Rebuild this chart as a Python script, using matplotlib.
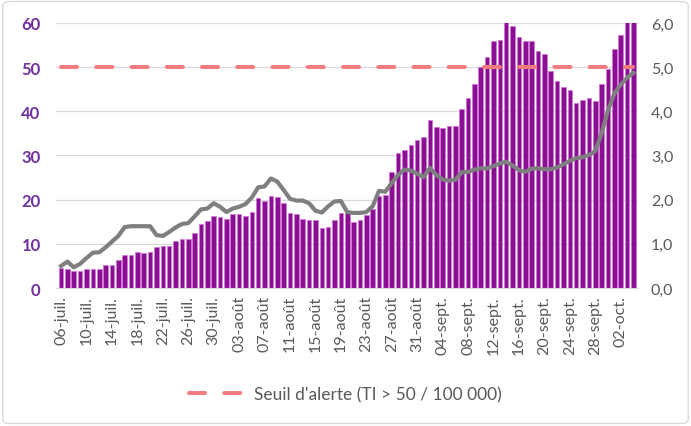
import numpy as np
import matplotlib
matplotlib.use("Agg")
import matplotlib.pyplot as plt
from matplotlib.patches import FancyBboxPatch
from matplotlib.ticker import FuncFormatter

# Données (06-juil. -> 04-oct., un point par jour)
incidence = [
    4.5, 4.3, 3.9, 3.9, 4.3, 4.3, 4.3, 5.3, 5.3, 6.4, 7.5, 7.5, 8.1, 8.0, 8.2,
    9.2, 9.6, 9.6, 10.6, 11.2, 11.2, 12.4, 14.5, 15.2, 16.2, 16.0, 15.6, 16.7, 16.7,
    16.2, 17.3, 20.3, 19.8, 20.9, 20.6, 19.2, 17.1, 16.7, 15.6, 15.3, 15.3, 13.5,
    13.9, 15.3, 17.1, 17.0, 15.0, 15.3, 16.5, 17.9, 20.9, 21.1, 26.3, 30.6, 31.3,
    32.4, 33.4, 34.2, 38.1,
    36.4, 36.3, 36.6, 36.6, 40.5, 43.0, 46.1, 50.1, 52.2, 55.8, 56.1, 60.5, 59.4,
    56.7, 55.8, 55.8, 53.7, 53.0, 49.1, 46.9, 45.4, 44.8, 41.8, 42.6, 42.9, 42.3,
    46.2, 49.6, 54.0, 57.3, 61.0, 62.0,
]
taux = [
    0.50, 0.60, 0.47, 0.55, 0.68, 0.80, 0.81, 0.92, 1.05, 1.18, 1.38, 1.40, 1.40,
    1.40, 1.40, 1.20, 1.18, 1.27, 1.37, 1.45, 1.47, 1.62, 1.78, 1.80, 1.92, 1.84,
    1.72, 1.80, 1.84,
    1.90, 2.05, 2.28, 2.30, 2.48, 2.41, 2.22, 2.02, 1.98, 1.98, 1.92, 1.75, 1.71,
    1.85, 1.96, 1.97, 1.72, 1.70, 1.70, 1.72, 1.85, 2.20, 2.18, 2.38, 2.56, 2.68,
    2.66, 2.59, 2.51, 2.72,
    2.56, 2.46, 2.43, 2.45, 2.62, 2.63, 2.68, 2.71, 2.71, 2.76, 2.82, 2.86, 2.77,
    2.67, 2.63, 2.70, 2.71, 2.69, 2.69, 2.73, 2.80, 2.88, 2.94, 2.96, 3.01, 3.10,
    3.50, 4.02, 4.40, 4.60, 4.76, 4.87,
]
seuil = 50
tick_labels = [
    "06-juil.", "10-juil.", "14-juil.", "18-juil.", "22-juil.", "26-juil.",
    "30-juil.", "03-août", "07-août", "11-août", "15-août", "19-août", "23-août",
    "27-août", "31-août", "04-sept.", "08-sept.", "12-sept.", "16-sept.",
    "20-sept.", "24-sept.", "28-sept.", "02-oct.",
]
legend_label = "Seuil d'alerte (TI > 50 / 100 000)"

plt.rcParams["font.family"] = ["Lato", "DejaVu Sans"]

x = np.arange(len(incidence))

fig = plt.figure(figsize=(6.91, 4.27), dpi=100)
fig.patches.append(FancyBboxPatch((0.004, 0.006), 0.992, 0.988,
                                  boxstyle="round,pad=0,rounding_size=0.01",
                                  transform=fig.transFigure, fill=False,
                                  edgecolor="#D9D9D9", linewidth=1.0))
ax = fig.add_axes([0.081, 0.323, 0.843, 0.621])

ax.bar(x, incidence, width=0.72, color="#8B0F93", edgecolor="#D27AD8",
       linewidth=0.6, zorder=2)
ax.plot(x, [seuil] * len(x), color="#F47C80", lw=2.9,
        linestyle=(0, (4.0, 4.75)), dash_capstyle="round", zorder=3,
        label=legend_label)

ax.set_xlim(-0.8, len(x) - 0.2)
ax.set_ylim(0, 60)
ax.set_yticks(range(0, 61, 10))
ax.grid(axis="y", color="#D9D9D9", linewidth=0.9, zorder=0)
ax.set_axisbelow(True)
for s in ["top", "right", "left"]:
    ax.spines[s].set_visible(False)
ax.spines["bottom"].set_color("#D9D9D9")
ax.set_xticks(x[::4])
ax.set_xticklabels(tick_labels, rotation=90, fontsize=11.5, color="#595959")
ax.tick_params(axis="x", length=0, pad=5)
ax.tick_params(axis="y", length=0, pad=11, labelsize=12, labelcolor="#7030A0")
for lab in ax.get_yticklabels():
    lab.set_fontweight("bold")

ax2 = ax.twinx()
ax2.plot(x, taux, color="#7F7F7F", lw=3.0, solid_joinstyle="round", zorder=4)
ax2.set_ylim(0, 6)
ax2.set_yticks(np.arange(0, 6.1, 1))
ax2.yaxis.set_major_formatter(FuncFormatter(lambda v, p: f"{v:.1f}".replace(".", ",")))
ax2.tick_params(axis="y", length=0, pad=9, labelsize=11.5, labelcolor="#595959")
for s in ["top", "right", "left", "bottom"]:
    ax2.spines[s].set_visible(False)

fig.legend(loc="center", bbox_to_anchor=(0.5, 0.075), frameon=False,
           fontsize=12.5, handlelength=3.2, handletextpad=0.55,
           labelcolor="#595959")

fig.savefig("out.png", dpi=100)
